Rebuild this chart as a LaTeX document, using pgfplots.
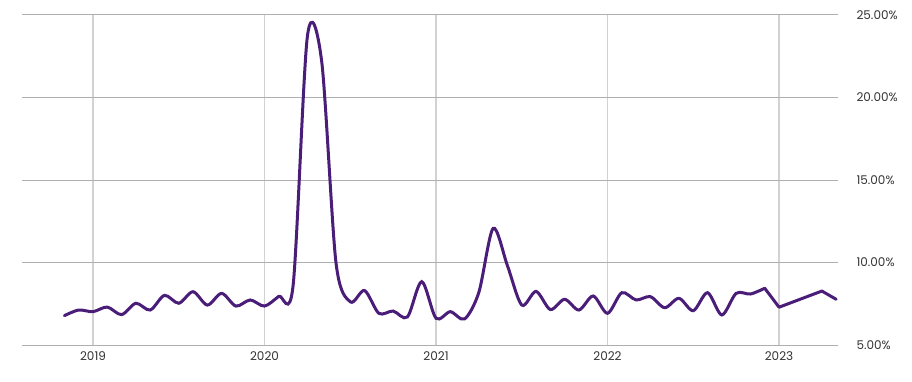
\documentclass[border=0pt]{standalone}
\usepackage{pgfplots}
\pgfplotsset{compat=1.18}
\usepackage{fontspec}
\setmainfont{Poppins}
\definecolor{linepurple}{HTML}{4A1D78}
\definecolor{gridv}{HTML}{D2D2D2}
\definecolor{gridh}{HTML}{AFAFAF}
\definecolor{labelgray}{HTML}{333333}

% monthly rate, x = year + (month-1)/12
\pgfplotstableread{
x        y
2018.8333 6.78
2018.9167 7.12
2019.0000 7.02
2019.0833 7.30
2019.1667 6.84
2019.2500 7.53
2019.3333 7.12
2019.4167 8.01
2019.5000 7.53
2019.5833 8.23
2019.6667 7.42
2019.7500 8.13
2019.8333 7.36
2019.9167 7.73
2020.0000 7.36
2020.0833 7.95
2020.1667 8.60
2020.2500 23.70
2020.3333 22.20
2020.4167 10.00
2020.5000 7.62
2020.5833 8.30
2020.6667 6.92
2020.7500 7.06
2020.8333 6.70
2020.9167 8.84
2021.0000 6.62
2021.0833 7.02
2021.1667 6.58
2021.2500 8.20
2021.3333 12.07
2021.4167 9.80
2021.5000 7.42
2021.5833 8.25
2021.6667 7.15
2021.7500 7.77
2021.8333 7.12
2021.9167 7.97
2022.0000 6.92
2022.0833 8.17
2022.1667 7.73
2022.2500 7.93
2022.3333 7.26
2022.4167 7.83
2022.5000 7.08
2022.5833 8.17
2022.6667 6.82
2022.7500 8.13
2022.8333 8.09
2022.9167 8.44
2023.0000 7.29
2023.2500 8.27
2023.3333 7.77
}\ratedata

\begin{document}
\begin{tikzpicture}[x=1pt,y=1pt]
\path[use as bounding box] (-22,-36) rectangle (890,345);
\begin{axis}[
  at={(0,0)}, anchor=south west,
  scale only axis, width=816pt, height=330pt,
  xmin=2018.586, xmax=2023.344,
  ymin=5, ymax=25,
  clip=false,
  axis x line*=bottom,
  axis y line*=right,
  x axis line style={draw=gridh, line width=1pt},
  y axis line style={draw=none},
  major tick length=0pt,
  xtick={2019,2020,2021,2022,2023},
  xticklabels={2019,2020,2021,2022,2023},
  ytick={5,10,15,20,25},
  yticklabel={\pgfmathprintnumber{\tick}\%},
  /pgf/number format/.cd, fixed, fixed zerofill, precision=2, assume math mode=true,
  /pgfplots/.cd,
  xmajorgrids, ymajorgrids,
  x grid style={gridv, line width=1.6pt},
  y grid style={gridh, line width=1pt},
  tick label style={font=\fontsize{12}{14}\selectfont, text=labelgray},
  xticklabel style={yshift=-3pt},
  yticklabel style={anchor=west, xshift=15pt},
]
% smooth through 2022, straight segments for the sparse months of 2023
\addplot[linepurple, line width=3pt, line cap=round, smooth, tension=0.5,
  restrict x to domain=2018:2022.92] table[x=x, y=y] {\ratedata};
\addplot[linepurple, line width=3pt, line cap=round, line join=round, sharp plot,
  restrict x to domain=2022.9:2024] table[x=x, y=y] {\ratedata};
\end{axis}
\end{tikzpicture}
\end{document}
